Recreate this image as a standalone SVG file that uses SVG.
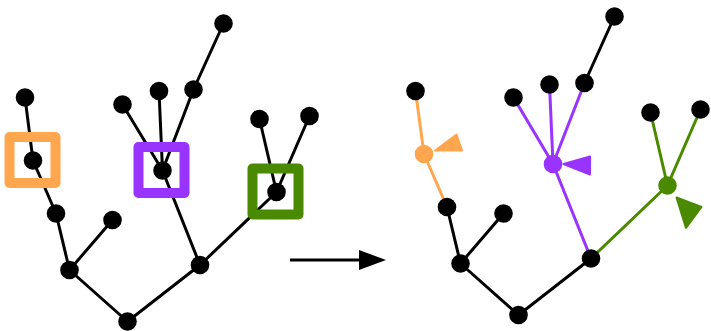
<svg xmlns="http://www.w3.org/2000/svg" width="711" height="331" viewBox="0 0 711 331">
  <style>
    .edge { stroke: #000; stroke-width: 3; fill: none; stroke-linecap: round; }
    .orange { stroke: #FFA64F; }
    .purple { stroke: #9933FF; }
    .green { stroke: #4A8A00; }
    .node { fill: #000; }
    .box { fill: none; stroke-width: 10; stroke-linejoin: round; }
  </style>
  <defs>
    <marker id="arrowhead" viewBox="0 0 27 20" refX="0" refY="10" markerWidth="27" markerHeight="20" markerUnits="userSpaceOnUse" orient="auto">
      <path d="M0,0 L27,10 L0,20 Z" fill="#000"/>
    </marker>
  </defs>

  <rect width="711" height="331" fill="#fff"/>

  <!-- left tree: edges -->
  <g id="connectors-left">
    <line class="edge" x1="127.5" y1="321.5" x2="69.5" y2="270"/>
    <line class="edge" x1="127.5" y1="321.5" x2="200" y2="265"/>
    <line class="edge" x1="69.5" y1="270" x2="56" y2="213.5"/>
    <line class="edge" x1="69.5" y1="270" x2="112.5" y2="220"/>
    <line class="edge" x1="56" y1="213.5" x2="33" y2="160.5"/>
    <line class="edge" x1="33" y1="160.5" x2="25" y2="97.5"/>
    <line class="edge" x1="200" y1="265" x2="162.5" y2="170.5"/>
    <line class="edge" x1="200" y1="265" x2="276.5" y2="192"/>
    <line class="edge" x1="162.5" y1="170.5" x2="122.5" y2="104.5"/>
    <line class="edge" x1="162.5" y1="170.5" x2="159" y2="91"/>
    <line class="edge" x1="162.5" y1="170.5" x2="193.5" y2="89.5"/>
    <line class="edge" x1="193.5" y1="89.5" x2="223.5" y2="23.5"/>
    <line class="edge" x1="276.5" y1="192" x2="259.5" y2="119"/>
    <line class="edge" x1="276.5" y1="192" x2="309.5" y2="116"/>
  </g>

  <!-- left tree: nodes -->
  <g id="left-nodes">
    <circle id="l-root" class="node" cx="127.5" cy="321.5" r="9.3"/>
    <circle id="l-a" class="node" cx="69.5" cy="270" r="9.3"/>
    <circle id="l-b" class="node" cx="200" cy="265" r="9.3"/>
    <circle id="l-a1" class="node" cx="56" cy="213.5" r="9.3"/>
    <circle id="l-a2" class="node" cx="112.5" cy="220" r="9.3"/>
    <circle id="l-o" class="node" cx="33" cy="160.5" r="9.3"/>
    <circle id="l-o1" class="node" cx="25" cy="97.5" r="9.3"/>
    <circle id="l-p" class="node" cx="162.5" cy="170.5" r="9.3"/>
    <circle id="l-p1" class="node" cx="122.5" cy="104.5" r="9.3"/>
    <circle id="l-p2" class="node" cx="159" cy="91" r="9.3"/>
    <circle id="l-p3" class="node" cx="193.5" cy="89.5" r="9.3"/>
    <circle id="l-p4" class="node" cx="223.5" cy="23.5" r="9.3"/>
    <circle id="l-g" class="node" cx="276.5" cy="192" r="9.3"/>
    <circle id="l-g1" class="node" cx="259.5" cy="119" r="9.3"/>
    <circle id="l-g2" class="node" cx="309.5" cy="116" r="9.3"/>
  </g>

  <!-- highlight boxes -->
  <g id="boxes">
    <rect class="box orange" x="9.5" y="137" width="46" height="46"/>
    <rect class="box purple" x="138.5" y="147" width="46" height="46"/>
    <rect class="box green" x="252.5" y="168.5" width="46" height="46"/>
  </g>

  <!-- transform arrow -->
  <g id="transform-arrow">
    <line x1="290" y1="260" x2="359" y2="260" stroke="#000" stroke-width="3" marker-end="url(#arrowhead)"/>
  </g>

  <!-- right tree: edges -->
  <g id="connectors-right">
    <line class="edge" x1="518.5" y1="315" x2="460.5" y2="263.5"/>
    <line class="edge" x1="518.5" y1="315" x2="591" y2="258.5"/>
    <line class="edge" x1="460.5" y1="263.5" x2="447" y2="207"/>
    <line class="edge" x1="460.5" y1="263.5" x2="503.5" y2="213.5"/>
    <line class="edge orange" x1="447" y1="207" x2="424" y2="154"/>
    <line class="edge orange" x1="424" y1="154" x2="415.5" y2="91"/>
    <line class="edge purple" x1="591" y1="258.5" x2="553" y2="164"/>
    <line class="edge green" x1="591" y1="258.5" x2="667.5" y2="185.5"/>
    <line class="edge purple" x1="553" y1="164" x2="513.5" y2="97.5"/>
    <line class="edge purple" x1="553" y1="164" x2="549.5" y2="84.5"/>
    <line class="edge purple" x1="553" y1="164" x2="584.5" y2="83"/>
    <line class="edge" x1="584.5" y1="83" x2="614.5" y2="16.5"/>
    <line class="edge green" x1="667.5" y1="185.5" x2="650.5" y2="112.5"/>
    <line class="edge green" x1="667.5" y1="185.5" x2="700.5" y2="109.5"/>
  </g>

  <!-- right tree: nodes -->
  <g id="right-nodes">
    <circle id="r-root" class="node" cx="518.5" cy="315" r="9.3"/>
    <circle id="r-a" class="node" cx="460.5" cy="263.5" r="9.3"/>
    <circle id="r-b" class="node" cx="591" cy="258.5" r="9.3"/>
    <circle id="r-a1" class="node" cx="447" cy="207" r="9.3"/>
    <circle id="r-a2" class="node" cx="503.5" cy="213.5" r="9.3"/>
    <circle id="r-o" cx="424" cy="154" r="9.3" fill="#FFA64F"/>
    <circle id="r-o1" class="node" cx="415.5" cy="91" r="9.3"/>
    <circle id="r-p" cx="553" cy="164" r="9.3" fill="#9933FF"/>
    <circle id="r-p1" class="node" cx="513.5" cy="97.5" r="9.3"/>
    <circle id="r-p2" class="node" cx="549.5" cy="84.5" r="9.3"/>
    <circle id="r-p3" class="node" cx="584.5" cy="83" r="9.3"/>
    <circle id="r-p4" class="node" cx="614.5" cy="16.5" r="9.3"/>
    <circle id="r-g" cx="667.5" cy="185.5" r="9.3" fill="#4A8A00"/>
    <circle id="r-g1" class="node" cx="650.5" cy="112.5" r="9.3"/>
    <circle id="r-g2" class="node" cx="700.5" cy="109.5" r="9.3"/>
  </g>

  <!-- pointer triangles -->
  <g id="pointers" stroke-linejoin="round" stroke-width="2">
    <polygon points="435,150.5 456.5,134.5 462,150.5" fill="#FFA64F" stroke="#FFA64F"/>
    <polygon points="563.5,164 590,156.5 590,174.5" fill="#9933FF" stroke="#9933FF"/>
    <polygon points="676.5,197.5 701.5,207 686,228" fill="#4A8A00" stroke="#4A8A00"/>
  </g>
</svg>
